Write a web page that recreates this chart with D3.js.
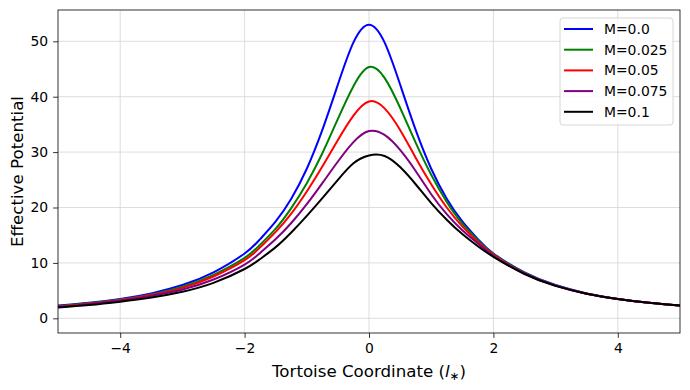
<!DOCTYPE html>
<html><head><meta charset="utf-8">
<script src="https://cdn.jsdelivr.net/npm/d3@7"></script>
<style>body{margin:0;background:#fff} svg{display:block} text{font-family:"DejaVu Sans",sans-serif;fill:#000}</style>
</head><body><svg id="c" width="690" height="390"></svg>
<script>
// ---- data ----
const xValues = [-5,-4.5,-4,-3.5,-3,-2.5,-2,-1.75,-1.5,-1.25,-1,-0.75,-0.5,-0.25,0,0.25,0.5,0.75,1,1.25,1.5,1.75,2,2.5,3,3.5,4,4.5,5];
const seriesNames = ["M=0.0","M=0.025","M=0.05","M=0.075","M=0.1"];
const seriesColors = ["blue","green","red","purple","black"];
const vM0   = [2.3,2.8,3.5,4.5,6.0,8.3,11.7,14.3,17.5,21.6,27.0,34.0,42.2,49.8,53.0,49.8,42.2,34.0,27.0,21.6,17.5,14.3,11.7,8.3,6.0,4.5,3.5,2.8,2.3];
const vM025 = [2.2,2.7,3.4,4.3,5.7,7.85,10.9,13.3,16.2,19.9,24.4,29.8,36.0,41.9,45.35,43.4,38.0,31.7,25.9,21.0,17.1,14.1,11.6,8.2,5.95,4.45,3.5,2.8,2.3];
const vM05  = [2.15,2.65,3.3,4.2,5.5,7.55,10.5,12.8,15.6,18.9,22.9,27.4,32.2,36.6,39.15,37.9,34.0,29.0,24.2,20.0,16.6,13.8,11.45,8.1,5.9,4.45,3.5,2.8,2.3];
const vM075 = [2.05,2.55,3.2,4.05,5.2,7.0,9.7,11.8,14.3,17.2,20.6,24.4,28.3,31.8,33.8,33.1,30.4,26.6,22.4,18.8,15.9,13.5,11.3,8.05,5.85,4.45,3.5,2.8,2.3];
const vM1   = [1.95,2.4,3.0,3.75,4.8,6.4,8.9,10.7,12.85,15.5,18.5,21.7,25.0,28.0,29.4,29.3,27.3,24.2,20.8,17.8,15.2,13.0,11.1,8.0,5.85,4.45,3.5,2.8,2.3];
const seriesValues = [vM0,vM025,vM05,vM075,vM1];
const xTicks = [-4,-2,0,2,4];
const yTicks = [0,10,20,30,40,50];
const xDomain = [-5,5];
const yDomain = [-2.65,55.65];

// ---- layout ----
const L=58,R=680,T=10,B=333;
const svg = d3.select("#c");
const x = d3.scaleLinear().domain(xDomain).range([L,R]);
const y = d3.scaleLinear().domain(yDomain).range([B,T]);

svg.append("defs").append("clipPath").attr("id","clip")
  .append("rect").attr("x",L).attr("y",T).attr("width",R-L).attr("height",B-T);

// grid
const grid = svg.append("g").attr("stroke","#d4d4d4").attr("stroke-width",0.8);
grid.selectAll("line.gx").data(xTicks).join("line")
  .attr("x1",d=>x(d)).attr("x2",d=>x(d)).attr("y1",T).attr("y2",B);
grid.selectAll("line.gy").data(yTicks).join("line")
  .attr("y1",d=>y(d)).attr("y2",d=>y(d)).attr("x1",L).attr("x2",R);

// lines
const line = d3.line().x(d=>x(d[0])).y(d=>y(d[1])).curve(d3.curveNatural);
const lg = svg.append("g").attr("clip-path","url(#clip)");
seriesValues.forEach((vals,i)=>{
  lg.append("path").datum(xValues.map((xv,j)=>[xv,vals[j]]))
    .attr("d",line).attr("fill","none").attr("stroke",seriesColors[i]).attr("stroke-width",2);
});

// axes
const fs = "13.9px";
const xa = svg.append("g").attr("transform",`translate(0,${B})`)
  .call(d3.axisBottom(x).tickValues(xTicks).tickSize(4.9).tickPadding(4.9));
const ya = svg.append("g").attr("transform",`translate(${L},0)`)
  .call(d3.axisLeft(y).tickValues(yTicks).tickSize(4.9).tickPadding(4.9));
[xa,ya].forEach(a=>{
  a.select(".domain").remove();
  a.selectAll(".tick line").attr("stroke","#000").attr("stroke-width",0.8);
  a.selectAll(".tick text").attr("font-size",fs).attr("font-family","DejaVu Sans").attr("fill","#000");
});

// frame
svg.append("rect").attr("x",L).attr("y",T).attr("width",R-L).attr("height",B-T)
  .attr("fill","none").attr("stroke","#000").attr("stroke-width",0.8);

// axis labels
svg.append("text").attr("transform",`translate(17,${(T+B)/2}) rotate(-90)`)
  .attr("text-anchor","middle").attr("dominant-baseline","central")
  .attr("font-size","16.67px").text("Effective Potential");
const xl = svg.append("text").attr("x",(L+R)/2).attr("y",377)
  .attr("text-anchor","middle").attr("font-size","16.67px");
xl.append("tspan").text("Tortoise Coordinate (");
xl.append("tspan").attr("font-style","italic").text("l");
xl.append("tspan").attr("font-size","11.7px").attr("dy","3").text("∗");
xl.append("tspan").attr("dy","-3").text(")");

// legend
const leg = svg.append("g");
leg.append("rect").attr("x",560).attr("y",18).attr("width",113).attr("height",107).attr("rx",3)
  .attr("fill","#fff").attr("fill-opacity",0.8).attr("stroke","#cccccc").attr("stroke-width",0.8);
seriesNames.forEach((n,i)=>{
  const cy = 29 + i*20.7;
  leg.append("line").attr("x1",564).attr("x2",593).attr("y1",cy).attr("y2",cy)
    .attr("stroke",seriesColors[i]).attr("stroke-width",2);
  leg.append("text").attr("x",604).attr("y",cy).attr("dominant-baseline","central")
    .attr("font-size",fs).text(n);
});
</script></body></html>
